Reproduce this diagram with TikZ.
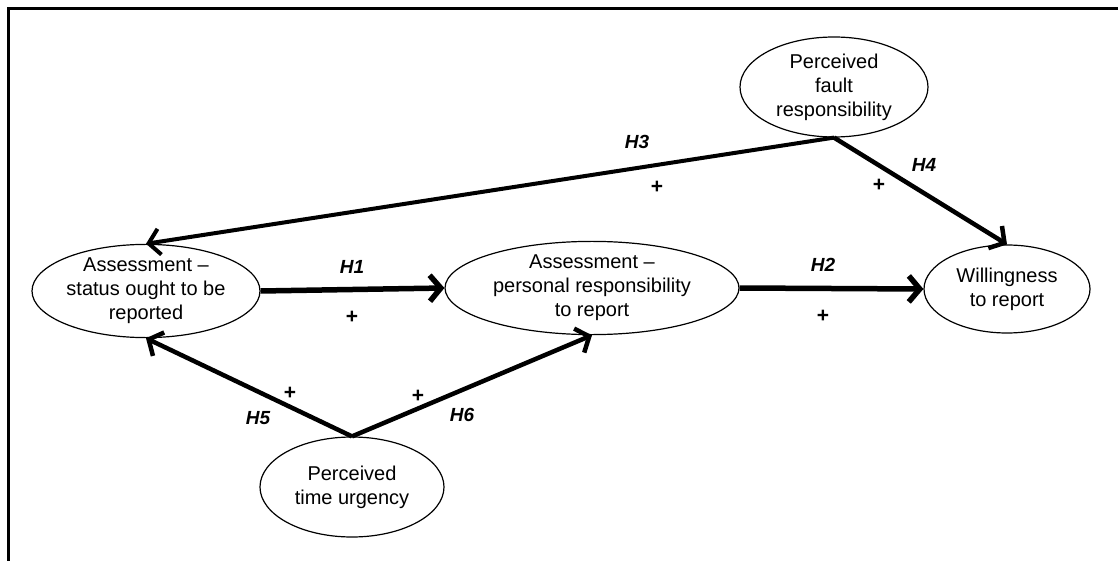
\documentclass[tikz,border=0pt]{standalone}
\usepackage{fontspec}
\setmainfont{Liberation Sans}
\usetikzlibrary{shapes.geometric,arrows.meta}

\begin{document}
\begin{tikzpicture}[x=1pt,y=-1pt,
		construct/.style={draw,ellipse,line width=1.2pt,inner sep=0pt,align=center,font=\fontsize{20}{24}\selectfont},
		path/.style={line width=4.5pt,-{Straight Barb[length=11pt,width=26pt]}},
		hyp/.style={font=\fontsize{19}{20}\selectfont\bfseries\itshape},
		sign/.style={font=\fontsize{21}{20}\selectfont\bfseries}]
		\useasboundingbox (0,0) rectangle (1118,561);
		\draw[line width=3pt] (8,561) -- (8,9) -- (1118,9);
		% constructs
		\node[construct,minimum width=188pt,minimum height=100pt] (fault) at (834,87) {Perceived\\fault\\responsibility};
		\node[construct,minimum width=228pt,minimum height=84pt] (status) at (146,291) {Assessment --\\status ought to be\\reported};
		\node[construct,minimum width=294pt,minimum height=86pt] (personal) at (592,288) {Assessment --\\personal responsibility\\to report};
		\node[construct,minimum width=166pt,minimum height=88pt] (willing) at (1007,289) {Willingness\\to report};
		\node[construct,minimum width=184pt,minimum height=100pt] (urgency) at (352,487) {Perceived\\time urgency};
		% paths
		\draw[path,line width=5.5pt] (status.east) -- (personal.west);
		\draw[path,line width=5.5pt] (personal.east) -- (willing.west);
		\draw[path,line width=4pt] (fault.south) -- (status.north);
		\draw[path] (fault.south) -- (willing.north);
		\draw[path] (urgency.north) -- (status.south);
		\draw[path] (urgency.north) -- (personal.south);
		% hypotheses
		\node[hyp] (h1) at (352,267) {H1};
		\node[sign] (p1) at (352,317) {+};
		\node[hyp] (h2) at (823,265) {H2};
		\node[sign] (p2) at (823,316) {+};
		\node[hyp] (h3) at (637,142) {H3};
		\node[sign] (p3) at (657,187) {+};
		\node[hyp] (h4) at (924,165) {H4};
		\node[sign] (p4) at (879,185) {+};
		\node[hyp] (h5) at (258,418) {H5};
		\node[sign] (p5) at (290,393) {+};
		\node[hyp] (h6) at (462,415) {H6};
		\node[sign] (p6) at (418,396) {+};
	\end{tikzpicture}
\end{document}
